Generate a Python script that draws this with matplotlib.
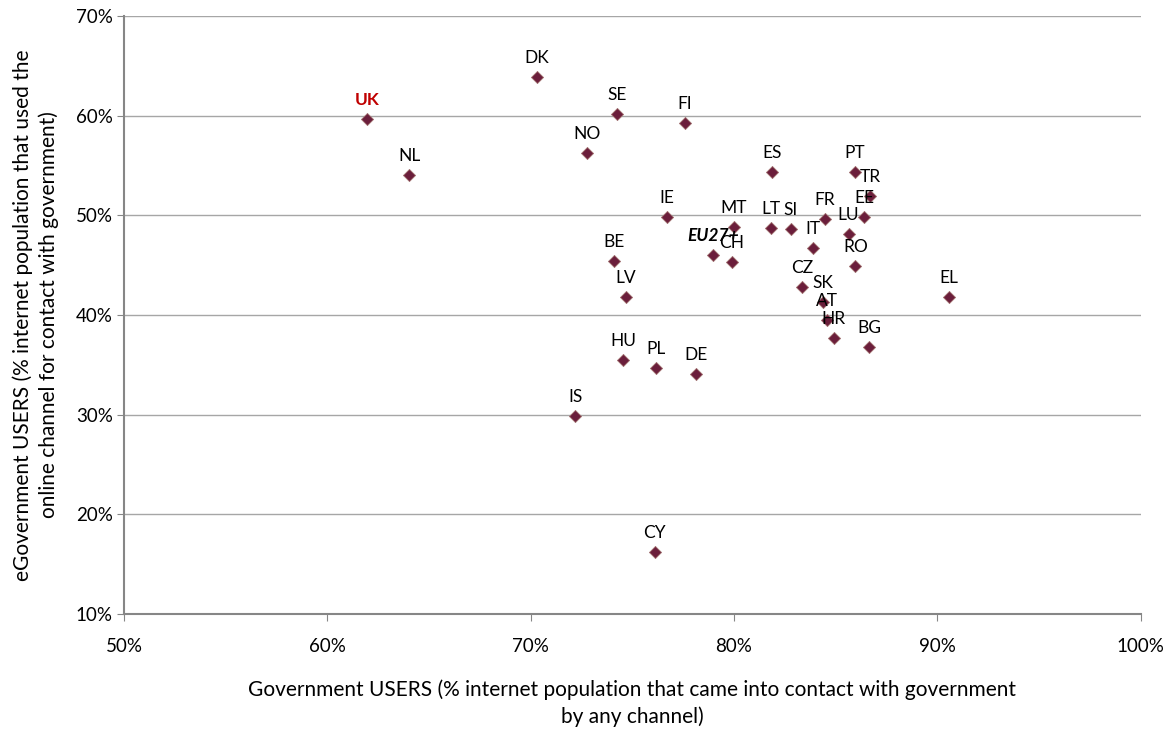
import matplotlib.pyplot as plt
from matplotlib.ticker import FuncFormatter

plt.rcParams['font.family'] = ['Lato', 'DejaVu Sans']

# country codes and values (%)
countries = ['UK', 'DK', 'SE', 'FI', 'NO', 'NL', 'IE', 'BE', 'LV', 'HU', 'PL', 'DE',
             'IS', 'CY', 'EU27+', 'CH', 'MT', 'ES', 'PT', 'TR', 'EE', 'FR', 'LT', 'SI',
             'LU', 'IT', 'RO', 'CZ', 'SK', 'EL', 'AT', 'HR', 'BG']
gov_users = [61.97, 70.30, 74.25, 77.58, 72.76, 64.03, 76.69, 74.10, 74.68, 74.53, 76.15, 78.15,
             72.18, 76.10, 78.97, 79.89, 79.99, 81.89, 85.94, 86.69, 86.41, 84.45, 81.82, 82.79,
             85.63, 83.89, 85.97, 83.35, 84.37, 90.55, 84.59, 84.91, 86.65]
egov_users = [59.70, 63.85, 60.17, 59.27, 56.29, 54.02, 49.87, 45.46, 41.79, 35.50, 34.66, 34.06,
              29.88, 16.21, 46.00, 45.33, 48.81, 54.38, 54.38, 51.98, 49.81, 49.61, 48.71, 48.67,
              48.17, 46.76, 44.95, 42.85, 41.28, 41.79, 39.51, 37.67, 36.80]

fig = plt.figure(figsize=(11.7, 7.3), dpi=100)
ax = fig.add_axes([0.106, 0.159, 0.869, 0.819])

ax.scatter(gov_users, egov_users, marker='D', s=38, color='#6B1E3B',
           edgecolors='#A0706F', linewidths=0.6, zorder=3)

for name, x, y in zip(countries, gov_users, egov_users):
    kw = dict(fontsize=12.5, color='black')
    if name == 'UK':
        kw = dict(fontsize=12.5, color='#C00000', fontweight='bold')
    elif name == 'EU27+':
        kw = dict(fontsize=12.5, color='black', fontweight='bold', fontstyle='italic')
    ax.annotate(name, (x, y), xytext=(0, 10), textcoords='offset points',
                ha='center', va='baseline', zorder=4, **kw)

ax.set_xlim(50, 100)
ax.set_ylim(10, 70)
ax.set_xticks(range(50, 101, 10))
ax.set_yticks(range(10, 71, 10))
pct = FuncFormatter(lambda v, p: '%d%%' % v)
ax.xaxis.set_major_formatter(pct)
ax.yaxis.set_major_formatter(pct)
ax.tick_params(labelsize=13.5, color='#868686', length=5, width=0.8)
ax.tick_params(axis='x', pad=12)
ax.tick_params(axis='y', pad=3)

ax.grid(axis='y', color='#A6A6A6', linewidth=1)
ax.set_axisbelow(True)
for s in ['top', 'right']:
    ax.spines[s].set_visible(False)
for s in ['left', 'bottom']:
    ax.spines[s].set_color('#868686')
    ax.spines[s].set_linewidth(1.5)

ax.set_xlabel('Government USERS (% internet population that came into contact with government\nby any channel)',
              fontsize=15, labelpad=18, linespacing=1.35)
ax.set_ylabel('eGovernment USERS (% internet population that used the\nonline channel for contact with government)',
              fontsize=15, labelpad=12, linespacing=1.35)

fig.savefig('out.png', dpi=100)
